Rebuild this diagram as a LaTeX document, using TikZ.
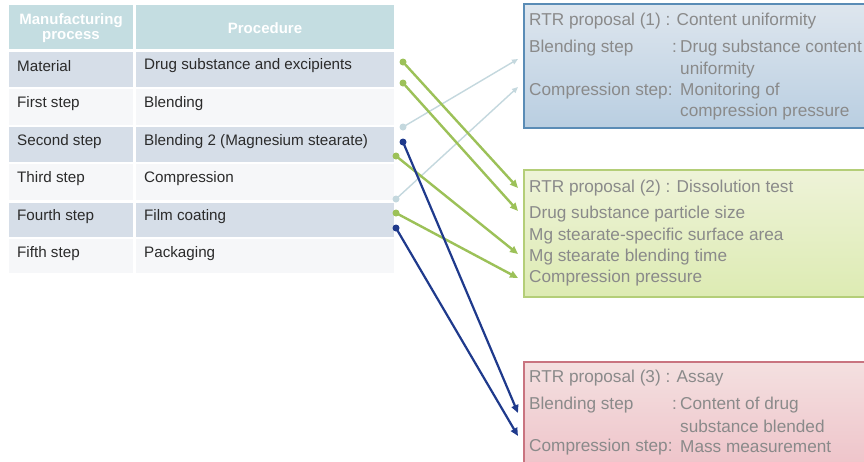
\documentclass[tikz,border=0pt]{standalone}
\usepackage{fontspec}
\setmainfont{Liberation Sans}
\usetikzlibrary{arrows.meta}

\definecolor{hdrfill}{HTML}{C4DDE1}
\definecolor{rowshade}{HTML}{D6DEE8}
\definecolor{rowlight}{HTML}{F6F7F9}
\definecolor{tabtext}{HTML}{2B2B2B}
\definecolor{boxtext}{HTML}{8A8A8A}
\definecolor{linkgreen}{HTML}{9CC158}
\definecolor{linknavy}{HTML}{1F3A8C}
\definecolor{linkpale}{HTML}{C4D8DE}
\definecolor{blueedge}{HTML}{5A8CB6}
\definecolor{bluetop}{HTML}{DEE6EE}
\definecolor{bluebot}{HTML}{B9CEE1}
\definecolor{greenedge}{HTML}{B4CE78}
\definecolor{greentop}{HTML}{EEF3D8}
\definecolor{greenbot}{HTML}{DDEBB3}
\definecolor{rededge}{HTML}{C97480}
\definecolor{redtop}{HTML}{F4E0E0}
\definecolor{redbot}{HTML}{EEC3C9}

\begin{document}
\begin{tikzpicture}[x=1pt,y=-1pt,
  hdrtext/.style={inner sep=0pt, text=white, font=\bfseries\fontsize{15}{17}\selectfont, align=center},
  celltext/.style={inner sep=0pt, anchor=west, text=tabtext, font=\fontsize{15.2}{18}\selectfont},
  boxline/.style={inner sep=0pt, anchor=west, text=boxtext, font=\fontsize{17.2}{20}\selectfont},
  dot/.style={circle, inner sep=0pt, minimum size=7pt},
  greenlink/.style={draw=linkgreen, line width=2.4pt, -{Triangle[length=8pt,width=7pt]}},
  navylink/.style={draw=linknavy, line width=2.2pt, -{Triangle[length=8pt,width=7pt]}},
  palelink/.style={draw=linkpale, line width=1.4pt, -{Triangle[length=6pt,width=5pt]}}
]
\useasboundingbox (0,0) rectangle (864,461);
\fill[white] (0,0) rectangle (864,461);

% ---- process table ----
\fill[hdrfill] (9,5) rectangle (133,49);
\fill[hdrfill] (136,5) rectangle (394,49);
\foreach \t/\b/\c in {52/87/rowshade, 89/125/rowlight, 127/162/rowshade,
                      164/200/rowlight, 203/237/rowshade, 239/273/rowlight}{
  \fill[\c] (9,\t) rectangle (133,\b);
  \fill[\c] (136,\t) rectangle (394,\b);
}
\node[hdrtext] (hproc) at (71,28) {Manufacturing\\[-2pt]process};
\node[hdrtext] (hstep) at (265,28) {Procedure};

\node[celltext] (p1) at (17,66)  {Material};
\node[celltext] (p2) at (17,104) {First step};
\node[celltext] (p3) at (17,142) {Second step};
\node[celltext] (p4) at (17,179) {Third step};
\node[celltext] (p5) at (17,217) {Fourth step};
\node[celltext] (p6) at (17,254) {Fifth step};

\node[celltext] (s1) at (144,66)  {Drug substance and excipients};
\node[celltext] (s2) at (144,104) {Blending};
\node[celltext] (s3) at (144,142) {Blending 2 (Magnesium stearate)};
\node[celltext] (s4) at (144,179) {Compression};
\node[celltext] (s5) at (144,217) {Film coating};
\node[celltext] (s6) at (144,254) {Packaging};

% ---- RTR proposal boxes ----
\shade[top color=bluetop, bottom color=bluebot] (524,4) rectangle (872,128);
\draw[blueedge, line width=1.2pt] (872,4) -- (524,4) -- (524,128) -- (872,128);
\shade[top color=greentop, bottom color=greenbot] (524,170) rectangle (872,297);
\draw[greenedge, line width=1.2pt] (872,170) -- (524,170) -- (524,297) -- (872,297);
\shade[top color=redtop, bottom color=redbot] (524,362) rectangle (872,470);
\draw[rededge, line width=1.2pt] (872,362) -- (524,362) -- (524,470);

\node[boxline] (a0) at (529,21)  {RTR proposal (1) : Content uniformity};
\node[boxline] (a1) at (529,48)  {Blending step};
\node[boxline] (a1c) at (672,48) {:};
\node[boxline] (a1v) at (680,48) {Drug substance content};
\node[boxline] (a2v) at (680,70) {uniformity};
\node[boxline] (a3) at (529,91)  {Compression step:};
\node[boxline] (a3v) at (680,91) {Monitoring of};
\node[boxline] (a4v) at (680,112) {compression pressure};

\node[boxline] (b0) at (529,188) {RTR proposal (2) : Dissolution test};
\node[boxline] (b1) at (529,214) {Drug substance particle size};
\node[boxline] (b2) at (529,236) {Mg stearate-specific surface area};
\node[boxline] (b3) at (529,257) {Mg stearate blending time};
\node[boxline] (b4) at (529,278) {Compression pressure};

\node[boxline] (c0) at (529,378) {RTR proposal (3) : Assay};
\node[boxline] (c1) at (529,405) {Blending step};
\node[boxline] (c1c) at (672,405) {:};
\node[boxline] (c1v) at (680,405) {Content of drug};
\node[boxline] (c2v) at (680,426) {substance blended};
\node[boxline] (c3) at (529,447) {Compression step:};
\node[boxline] (c3v) at (680,447) {Mass measurement};

% ---- link end points ----
\coordinate (dG1) at (403,62);
\coordinate (dG2) at (403,83);
\coordinate (dP1) at (403,127);
\coordinate (dN1) at (403,142);
\coordinate (dG3) at (396,156);
\coordinate (dP2) at (396,199);
\coordinate (dG4) at (396,213);
\coordinate (dN2) at (396,228);

\coordinate (tP1) at (518,59);
\coordinate (tP2) at (518,87);
\coordinate (tG1) at (518,188);
\coordinate (tG2) at (518,211);
\coordinate (tG3) at (518,254);
\coordinate (tG4) at (518,278);
\coordinate (tN1) at (518,413);
\coordinate (tN2) at (518,436);

% ---- links ----
\draw[palelink] (dP1) -- (tP1);
\draw[palelink] (dP2) -- (tP2);
\draw[greenlink] (dG1) -- (tG1);
\draw[greenlink] (dG2) -- (tG2);
\draw[greenlink] (dG3) -- (tG3);
\draw[greenlink] (dG4) -- (tG4);
\draw[navylink] (dN1) -- (tN1);
\draw[navylink] (dN2) -- (tN2);

\foreach \d in {dG1,dG2,dG3,dG4}{\node[dot, fill=linkgreen] at (\d) {};}
\foreach \d in {dP1,dP2}{\node[dot, fill=linkpale] at (\d) {};}
\foreach \d in {dN1,dN2}{\node[dot, fill=linknavy] at (\d) {};}
\end{tikzpicture}
\end{document}
